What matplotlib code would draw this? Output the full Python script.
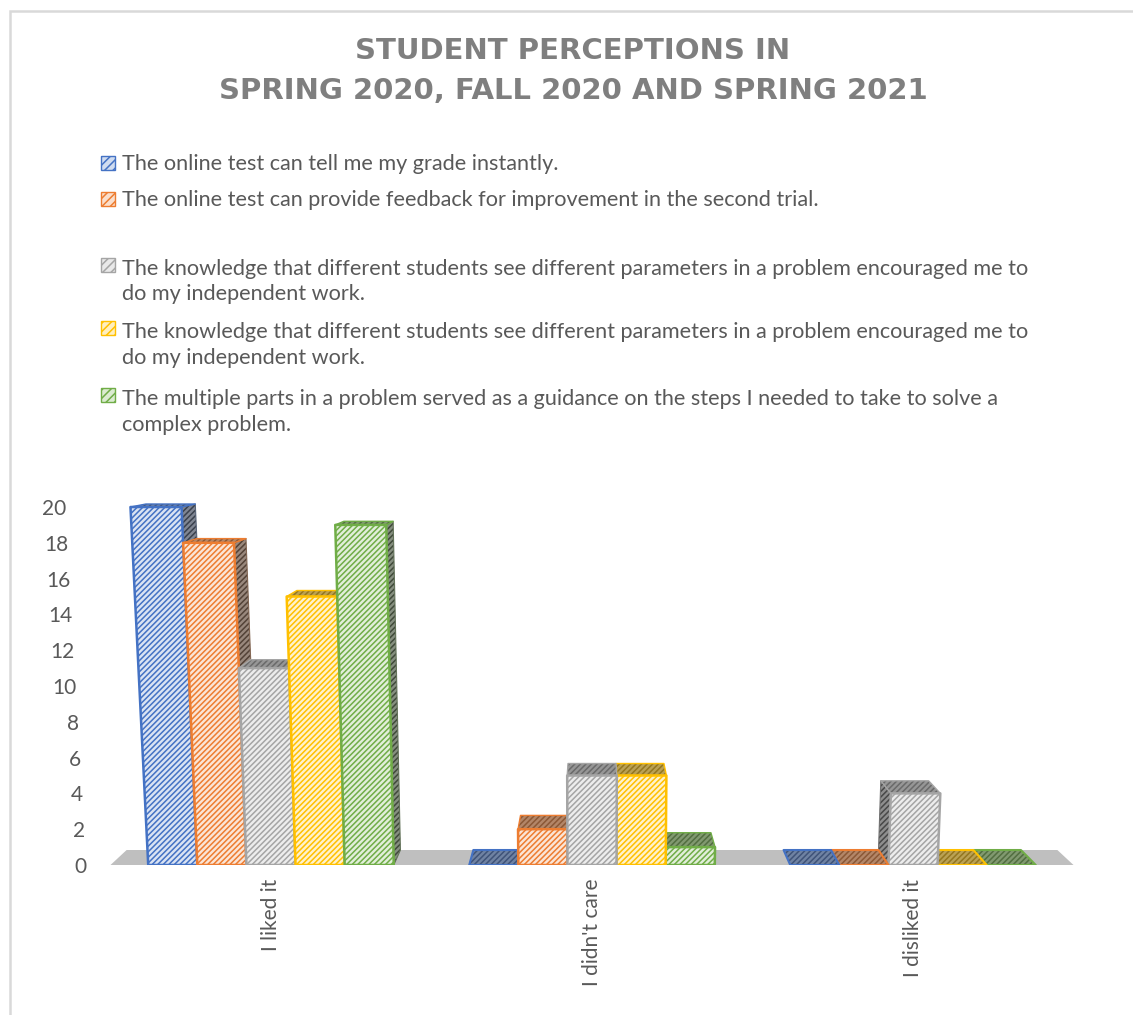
import matplotlib
matplotlib.use("Agg")
import matplotlib.pyplot as plt
from matplotlib.patches import Polygon, Rectangle
from matplotlib.colors import to_rgb
from matplotlib.transforms import ScaledTranslation

# ---- data -------------------------------------------------------------
categories = ["I liked it", "I didn't care", "I disliked it"]

series_labels = [
    "The online test can tell me my grade instantly.",
    "The online test can provide feedback for improvement in the second trial.",
    "The knowledge that different students see different parameters in a problem encouraged me to\ndo my independent work.",
    "The knowledge that different students see different parameters in a problem encouraged me to\ndo my independent work.",
    "The multiple parts in a problem served as a guidance on the steps I needed to take to solve a\ncomplex problem.",
]

grade_instantly = [20, 0, 0]
feedback_second_trial = [18, 2, 0]
parameters_independent = [11, 5, 4]
parameters_independent_b = [15, 5, 0]
multiple_parts_guidance = [19, 1, 0]

series_values = [grade_instantly, feedback_second_trial, parameters_independent,
                 parameters_independent_b, multiple_parts_guidance]
series_colors = ["#4472C4", "#ED7D31", "#A5A5A5", "#FFC000", "#70AD47"]

y_ticks = list(range(0, 21, 2))

title_text = "STUDENT PERCEPTIONS IN\nSPRING 2020, FALL 2020 AND SPRING 2021"

# ---- style ------------------------------------------------------------
TEXT_COLOR = "#595959"
FONT = ["Lato", "DejaVu Sans"]
plt.rcParams["font.family"] = FONT
plt.rcParams["hatch.linewidth"] = 1.1
HATCH = "//////"

W, H = 1133, 1015
fig = plt.figure(figsize=(W / 100, H / 100), dpi=100)
fig.patch.set_facecolor("white")

# chart frame
fig.add_artist(Rectangle((9.5 / W, -0.1), 1.2, (H - 10.5) / H + 0.1,
                         transform=fig.transFigure, fill=False,
                         edgecolor="#d9d9d9", linewidth=1.8, clip_on=False))

X_PX_PER_UNIT = 321.0
Y_PX_PER_UNIT = 17.9
XLIM = (-0.57, 2.6)
YLIM = (0, 26)
ax_left = (271 + XLIM[0] * X_PX_PER_UNIT) / W
ax_width = (XLIM[1] - XLIM[0]) * X_PX_PER_UNIT / W
ax_bottom = (H - 865) / H
ax_height = (YLIM[1] - YLIM[0]) * Y_PX_PER_UNIT / H
ax = fig.add_axes([ax_left, ax_bottom, ax_width, ax_height])
ax.set_xlim(*XLIM)
ax.set_ylim(*YLIM)
for sp in ax.spines.values():
    sp.set_visible(False)
ax.patch.set_alpha(0)

# ---- perspective projection for the 3-D columns ----------------------
XC = 1.0        # horizontal vanishing position
YV = 25.0       # vertical vanishing position
DEPTH = 0.0335  # shrink of the back plane
LEAN = 0.002    # outward lean of verticals with height


def proj(x, y, z):
    s = 1 - DEPTH * z
    return XC + (x - XC) * (1 + LEAN * y) * s, YV + (y - YV) * s


def mix(c1, c2, t):
    a, b = to_rgb(c1), to_rgb(c2)
    return tuple(a[i] * (1 - t) + b[i] * t for i in range(3))


def face(pts, fill, hatch_c, edge_c, lw, z):
    xy = [proj(*p) for p in pts]
    ax.add_patch(Polygon(xy, closed=True, facecolor=fill, edgecolor="none",
                         linewidth=0, zorder=z))
    ax.add_patch(Polygon(xy, closed=True, facecolor="none", edgecolor=hatch_c,
                         linewidth=0, hatch=HATCH, zorder=z + 0.1))
    ax.add_patch(Polygon(xy, closed=True, fill=False, edgecolor=edge_c,
                         linewidth=lw, joinstyle="round", zorder=z + 0.2))


# floor
floor_pts = [(-0.5, 0, 0), (2.5, 0, 0), (2.5, 0, 1), (-0.5, 0, 1)]
ax.add_patch(Polygon([proj(*p) for p in floor_pts], closed=True,
                     facecolor="#bfbfbf", edgecolor="none", zorder=1))

n_series = len(series_values)
bar_w = 0.153
bars = []
for ci in range(len(categories)):
    for si in range(n_series):
        x0 = ci + (si - n_series / 2) * bar_w
        bars.append((x0, x0 + bar_w, series_values[si][ci], series_colors[si]))

# paint farthest-from-centre columns first
bars.sort(key=lambda b: -abs((b[0] + b[1]) / 2 - XC))
z = 2
for x0, x1, h, col in bars:
    top_fill = mix(col, "#8c8c8c", 0.6)
    top_hatch = mix(col, "#3a3a3a", 0.55)
    side_fill = mix(col, "#8a8a8a", 0.85)
    side_hatch = mix(col, "#383838", 0.85)
    side_edge = mix(col, "#606060", 0.75)
    if h > 0:
        if x1 < XC - 1e-9:
            face([(x1, 0, 0), (x1, h, 0), (x1, h, 1), (x1, 0, 1)],
                 side_fill, side_hatch, side_edge, 0.8, z)
        elif x0 > XC + 1e-9:
            face([(x0, 0, 0), (x0, h, 0), (x0, h, 1), (x0, 0, 1)],
                 side_fill, side_hatch, side_edge, 0.8, z)
        face([(x0, h, 0), (x1, h, 0), (x1, h, 1), (x0, h, 1)],
             top_fill, top_hatch, col, 1.0, z + 0.3)
        face([(x0, 0, 0), (x1, 0, 0), (x1, h, 0), (x0, h, 0)],
             mix(col, "white", 0.8), col, col, 1.8, z + 0.6)
    else:
        face([(x0, 0, 0), (x1, 0, 0), (x1, 0, 1), (x0, 0, 1)],
             top_fill, top_hatch, col, 1.5, z + 0.3)
    z += 1

# ---- axes text --------------------------------------------------------
ax.set_yticks(y_ticks)
ax.set_yticklabels([str(v) for v in y_ticks])
ax.set_xticks(range(len(categories)))
ax.set_xticklabels(categories, rotation=90)
ax.tick_params(axis="both", length=0, labelcolor=TEXT_COLOR, labelsize=15)
ax.tick_params(axis="y", pad=1)
ax.tick_params(axis="x", pad=10)
lean_px = (XC - XLIM[0]) * X_PX_PER_UNIT
for v, lab in zip(y_ticks, ax.get_yticklabels()):
    dx = -LEAN * v * lean_px
    lab.set_transform(lab.get_transform() + ScaledTranslation(dx / 100, 0, fig.dpi_scale_trans))

# ---- title ------------------------------------------------------------
fig.text(573 / W, 1 - 37 / H, title_text, ha="center", va="top",
         fontsize=21, fontweight="bold", color="#7f7f7f",
         family=["DejaVu Sans"], linespacing=1.55)

# ---- legend -----------------------------------------------------------
legend_first_baselines = [170, 206, 272, 335, 402]
LINE_PITCH = 28.5
for label, col, base in zip(series_labels, series_colors, legend_first_baselines):
    sq_top = base - 14
    sq_y = 1 - (sq_top + 14) / H
    for kw in (dict(facecolor=mix(col, "white", 0.75), edgecolor="none", linewidth=0),
               dict(facecolor="none", edgecolor=col, linewidth=0, hatch="////"),
               dict(fill=False, edgecolor=col, linewidth=1.0)):
        fig.add_artist(Rectangle((101 / W, sq_y), 14 / W, 14 / H,
                                 transform=fig.transFigure, **kw))
    n_lines = label.count("\n") + 1
    last_base = base + (n_lines - 1) * LINE_PITCH
    fig.text(122 / W, 1 - last_base / H, label, ha="left", va="baseline",
             fontsize=15.6, color=TEXT_COLOR, linespacing=1.37)

fig.savefig("out.png", dpi=100)
